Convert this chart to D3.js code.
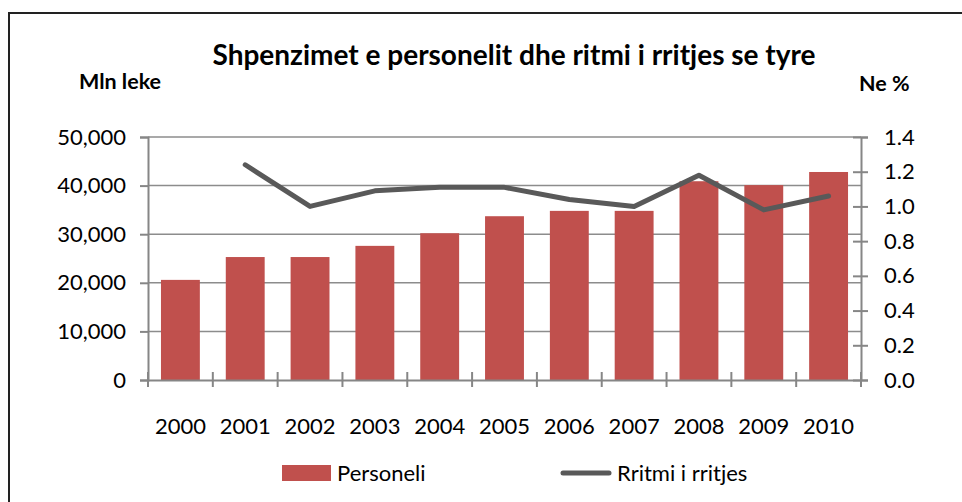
<!DOCTYPE html>
<html>
<head>
<meta charset="utf-8">
<script src="https://cdn.jsdelivr.net/npm/d3@7"></script>
<style>
	body{margin:0;background:#fff;}
	text{font-family:Lato, "Open Sans", sans-serif;fill:#000;}
</style>
</head>
<body>
<div id="chart"></div>
<script>

//data
const years = ["2000","2001","2002","2003","2004","2005","2006","2007","2008","2009","2010"];
const personeli = [20600, 25300, 25300, 27600, 30200, 33700, 34800, 34800, 40900, 40100, 42800];
const ritmi = [null, 1.24, 1.0, 1.09, 1.11, 1.11, 1.04, 1.0, 1.18, 0.98, 1.06];
const leftTicks = [0, 10000, 20000, 30000, 40000, 50000];
const rightTicks = [0, 0.2, 0.4, 0.6, 0.8, 1.0, 1.2, 1.4];

//sizing
let width = 962;
let height = 502;
let margin = {top:137, right:101, bottom:122, left:148};

let svg = d3.select("#chart")
	.append("svg")
	.attr("width", width)
	.attr("height", height);

//outer frame
svg.append("rect")
	.attr("x", 9)
	.attr("y", 13)
	.attr("width", width + 20)
	.attr("height", height + 20)
	.attr("fill", "none")
	.attr("stroke", "#222")
	.attr("stroke-width", 2);

//scales
const xScale = d3.scaleBand()
	.domain(years)
	.range([margin.left, width - margin.right])
	.paddingInner(0.4)
	.paddingOuter(0.2);

const xGrid = d3.scaleBand()
	.domain(years)
	.range([margin.left, width - margin.right]);

const yLeft = d3.scaleLinear()
	.domain([0, 50000])
	.range([height - margin.bottom, margin.top]);

const yRight = d3.scaleLinear()
	.domain([0, 1.4])
	.range([height - margin.bottom, margin.top]);

const fmt = d3.format(",");
const fmt1 = d3.format(".1f");

//gridlines
svg.append("g")
	.selectAll("line")
	.data(leftTicks.slice(1))
	.enter()
	.append("line")
	.attr("x1", margin.left)
	.attr("x2", width - margin.right)
	.attr("y1", d => yLeft(d))
	.attr("y2", d => yLeft(d))
	.attr("stroke", "#8c8c8c")
	.attr("stroke-width", 1.5);

//bars
svg.append("g")
	.selectAll("rect")
	.data(personeli)
	.enter()
	.append("rect")
	.attr("x", (d, i) => xScale(years[i]))
	.attr("y", d => yLeft(d))
	.attr("width", xScale.bandwidth())
	.attr("height", d => yLeft(0) - yLeft(d))
	.attr("fill", "#c0504d");

//axes
const axisColor = "#868686";

let leftAxis = svg.append("g")
	.attr("class", "axis")
	.attr("transform", `translate(${margin.left},0)`)
	.call(d3.axisLeft(yLeft).tickValues(leftTicks).tickSize(8).tickPadding(14).tickFormat(fmt));

let rightAxis = svg.append("g")
	.attr("class", "axis")
	.attr("transform", `translate(${width - margin.right},0)`)
	.call(d3.axisRight(yRight).tickValues(rightTicks).tickSize(7).tickPadding(16).tickFormat(fmt1));

rightAxis.selectAll(".tick line")
	.attr("x1", -8);

let bottomAxis = svg.append("g")
	.attr("class", "axis")
	.attr("transform", `translate(0,${height - margin.bottom})`)
	.call(d3.axisBottom(xGrid).tickSize(0).tickPadding(38).tickSizeOuter(0));

//tick marks between categories
bottomAxis.selectAll(".sep")
	.data(years.concat(["end"]))
	.enter()
	.append("line")
	.attr("class", "sep")
	.attr("x1", (d, i) => margin.left + i * xGrid.step())
	.attr("x2", (d, i) => margin.left + i * xGrid.step())
	.attr("y1", -8)
	.attr("y2", 7);

svg.selectAll(".axis path")
	.attr("stroke", axisColor)
	.attr("stroke-width", 2);
svg.selectAll(".axis line")
	.attr("stroke", axisColor)
	.attr("stroke-width", 2);
svg.selectAll(".axis text")
	.attr("font-size", 22)
	.attr("font-family", "Lato, sans-serif")
	.attr("fill", "#000");

//line
let line = d3.line()
	.defined(d => d != null)
	.x((d, i) => xGrid(years[i]) + xGrid.bandwidth() / 2)
	.y(d => yRight(d));

svg.append("path")
	.datum(ritmi)
	.attr("fill", "none")
	.attr("stroke", "#595959")
	.attr("stroke-width", 5)
	.attr("stroke-linejoin", "round")
	.attr("stroke-linecap", "round")
	.attr("d", line);

//title
svg.append("text")
	.attr("x", 514)
	.attr("y", 65)
	.attr("text-anchor", "middle")
	.attr("font-size", 28)
	.attr("font-weight", "bold")
	.text("Shpenzimet e personelit dhe ritmi i rritjes se tyre");

//axis titles
svg.append("text")
	.attr("x", 79)
	.attr("y", 89)
	.attr("font-size", 21.5)
	.attr("font-weight", "bold")
	.text("Mln leke");

svg.append("text")
	.attr("x", 859)
	.attr("y", 91)
	.attr("font-size", 21.5)
	.attr("font-weight", "bold")
	.text("Ne %");

//legend
svg.append("rect")
	.attr("x", 282)
	.attr("y", 465)
	.attr("width", 49)
	.attr("height", 16)
	.attr("fill", "#c0504d");

svg.append("text")
	.attr("x", 337)
	.attr("y", 481)
	.attr("font-size", 22)
	.text("Personeli");

svg.append("line")
	.attr("x1", 563)
	.attr("x2", 609)
	.attr("y1", 473)
	.attr("y2", 473)
	.attr("stroke", "#595959")
	.attr("stroke-width", 5)
	.attr("stroke-linecap", "round");

svg.append("text")
	.attr("x", 617)
	.attr("y", 481)
	.attr("font-size", 22)
	.text("Rritmi i rritjes");

</script>
</body>
</html>
